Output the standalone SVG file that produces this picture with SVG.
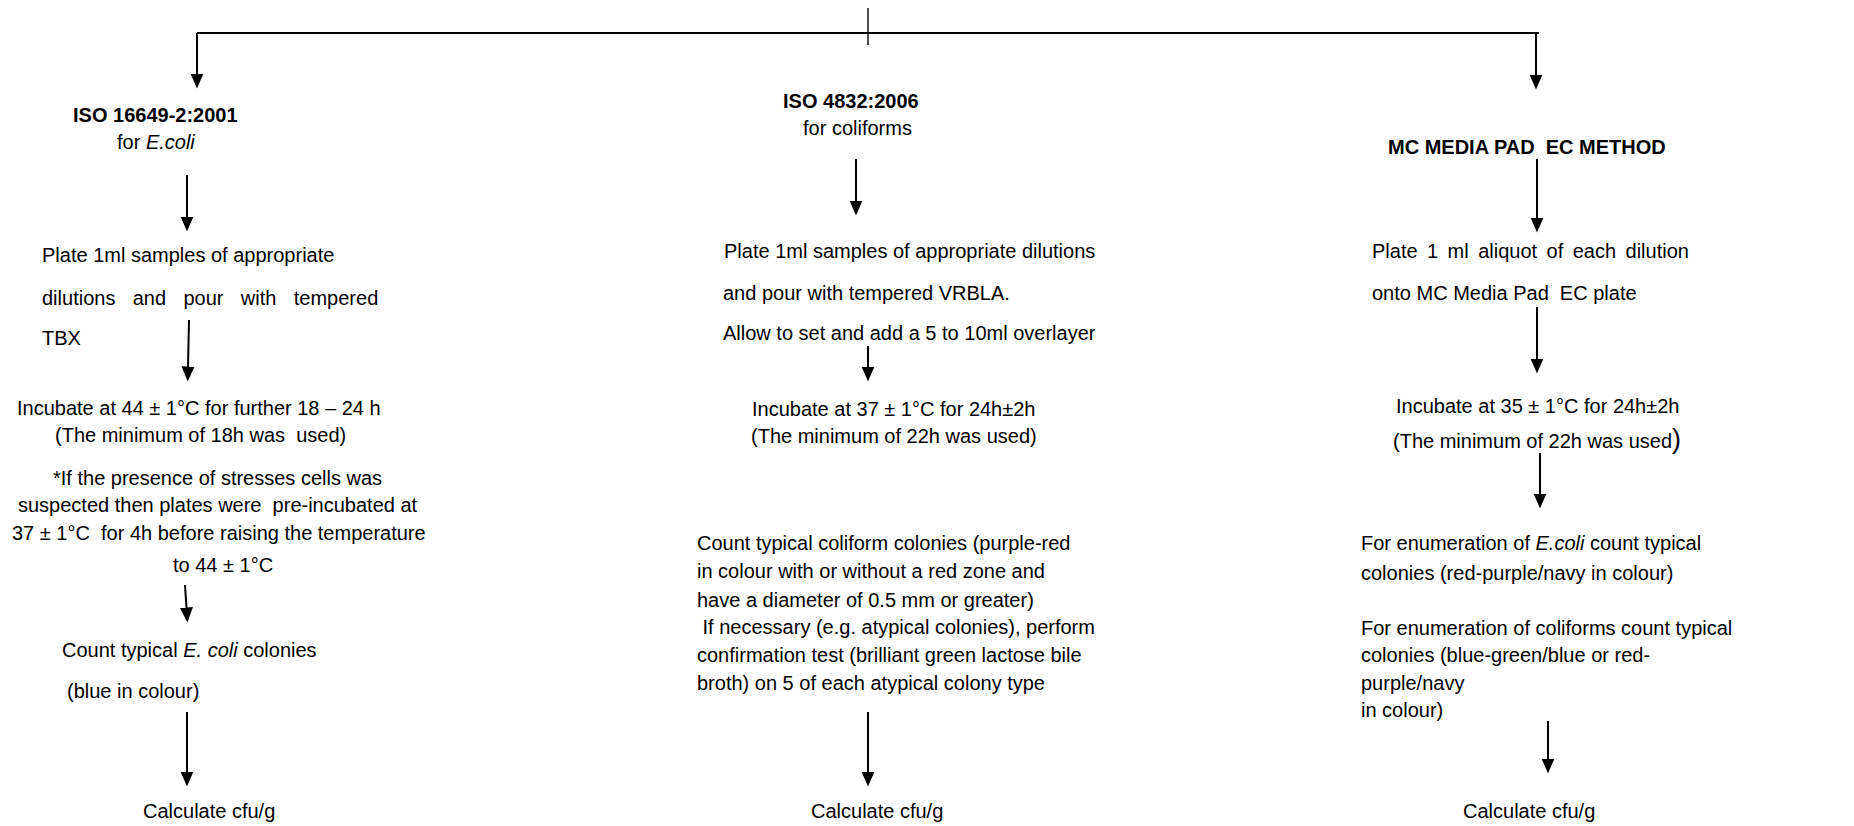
<svg xmlns="http://www.w3.org/2000/svg" width="1854" height="826" viewBox="0 0 1854 826" xml:space="preserve">
<defs>
<style>
text{font-family:"Liberation Sans",Arial,sans-serif;font-size:20px;fill:#000;white-space:pre}
.b{font-weight:bold}
.i{font-style:italic}
.c{stroke:#000;stroke-width:2;fill:none}
.a{stroke:#000;stroke-width:2;fill:none;marker-end:url(#ah)}
.t{stroke:#000;stroke-width:1.4;fill:none}
</style>
<marker id="ah" viewBox="0 -7 16 14" markerWidth="16" markerHeight="14" refX="0.5" refY="0" orient="auto" markerUnits="userSpaceOnUse"><path d="M0,-6.5 L15,0 L0,6.5 Z" fill="#000"/></marker>
</defs>
<rect width="1854" height="826" fill="#fff"/>
<g id="connectors">
<path class="c" d="M197,33 H1539"/>
<path class="t" d="M868,8 V45"/>
<path class="a" d="M197,33 V74"/>
<path class="a" d="M1536,33 V75"/>
<path class="a" d="M187,175 V217"/>
<path class="a" d="M189,320 L188,367"/>
<path class="a" d="M185,585 L186.5,608"/>
<path class="a" d="M187,712 V772"/>
<path class="a" d="M856,159 V201"/>
<path class="a" d="M868,346 V367"/>
<path class="a" d="M868,712 V772"/>
<path class="a" d="M1537,159 V218"/>
<path class="a" d="M1537,307 V359"/>
<path class="a" d="M1540,453 V494"/>
<path class="a" d="M1548,721 V759"/>
</g>
<g id="left-header"><text class="b" x="73" y="122">ISO 16649-2:2001</text><text x="117" y="149">for <tspan class="i">E.coli</tspan></text></g>
<g id="left-plate"><text x="42" y="262">Plate 1ml samples of appropriate</text><text x="42" y="305" word-spacing="11.8">dilutions and pour with tempered</text><text x="42" y="345">TBX</text></g>
<g id="left-incubate"><text x="17" y="415">Incubate at 44 ± 1°C for further 18 – 24 h</text><text x="55" y="442">(The minimum of 18h was  used)</text><text x="53" y="485">*If the presence of stresses cells was</text><text x="18" y="512">suspected then plates were  pre-incubated at</text><text x="12" y="540">37 ± 1°C  for 4h before raising the temperature</text><text x="173" y="572">to 44 ± 1°C</text></g>
<g id="left-count"><text x="62" y="657">Count typical <tspan class="i">E. coli</tspan> colonies</text><text x="67" y="698">(blue in colour)</text></g>
<g id="left-calc"><text x="143" y="818">Calculate cfu/g</text></g>
<g id="mid-header"><text class="b" x="783" y="108">ISO 4832:2006</text><text x="803" y="135">for coliforms</text></g>
<g id="mid-plate"><text x="724" y="258">Plate 1ml samples of appropriate dilutions</text><text x="723" y="300">and pour with tempered VRBLA.</text><text x="723" y="340">Allow to set and add a 5 to 10ml overlayer</text></g>
<g id="mid-incubate"><text x="752" y="416">Incubate at 37 ± 1°C for 24h±2h</text><text x="751" y="443">(The minimum of 22h was used)</text></g>
<g id="mid-count"><text x="697" y="550">Count typical coliform colonies (purple-red</text><text x="697" y="578">in colour with or without a red zone and</text><text x="697" y="607">have a diameter of 0.5 mm or greater)</text><text x="697" y="634"> If necessary (e.g. atypical colonies), perform</text><text x="697" y="662">confirmation test (brilliant green lactose bile</text><text x="697" y="690">broth) on 5 of each atypical colony type</text></g>
<g id="mid-calc"><text x="811" y="818">Calculate cfu/g</text></g>
<g id="right-header"><text class="b" x="1388" y="154">MC MEDIA PAD  EC METHOD</text></g>
<g id="right-plate"><text x="1372" y="258" word-spacing="3.9">Plate 1 ml aliquot of each dilution</text><text x="1372" y="300">onto MC Media Pad  EC plate</text></g>
<g id="right-incubate"><text x="1396" y="413">Incubate at 35 ± 1°C for 24h±2h</text><text x="1393" y="448">(The minimum of 22h was used<tspan font-size="27">)</tspan></text></g>
<g id="right-count"><text x="1361" y="550">For enumeration of <tspan class="i">E.coli</tspan> count typical</text><text x="1361" y="580">colonies (red-purple/navy in colour)</text><text x="1361" y="635">For enumeration of coliforms count typical</text><text x="1361" y="662">colonies (blue-green/blue or red-</text><text x="1361" y="690">purple/navy</text><text x="1361" y="717">in colour)</text></g>
<g id="right-calc"><text x="1463" y="818">Calculate cfu/g</text></g>
</svg>
